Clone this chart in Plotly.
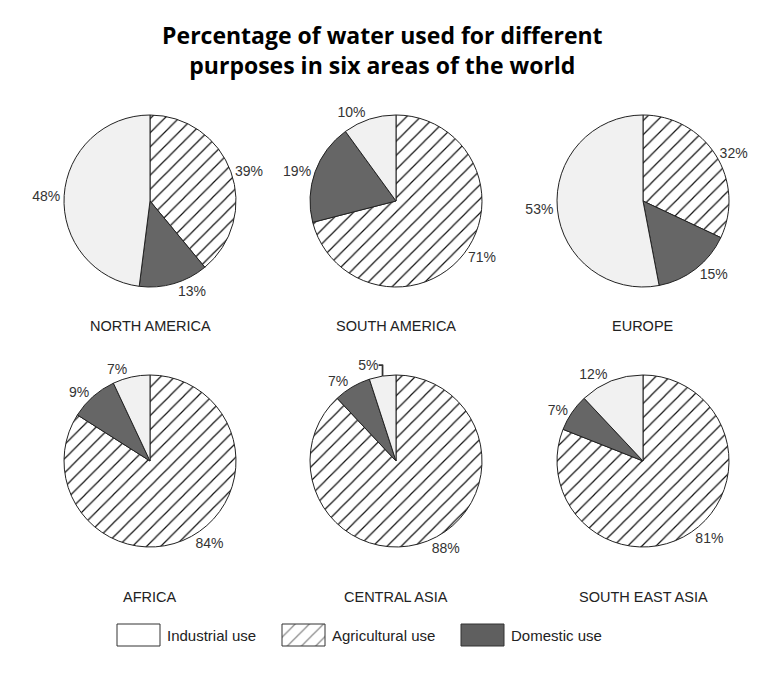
import plotly.graph_objects as go

regions = ["NORTH AMERICA", "SOUTH AMERICA", "EUROPE", "AFRICA", "CENTRAL ASIA", "SOUTH EAST ASIA"]
agricultural = [39, 71, 32, 84, 88, 81]
domestic = [13, 19, 15, 9, 7, 7]
industrial = [48, 10, 53, 7, 5, 12]
uses = ["Agricultural use", "Domestic use", "Industrial use"]
legend_order = ["Industrial use", "Agricultural use", "Domestic use"]

W, H = 774, 687
centers = [(150, 201), (396, 201), (643, 201), (150, 461), (396, 461), (643, 461)]
label_dy = [125, 125, 125, 136, 136, 136]
R = 86
FONT = "Liberation Sans, Arial"

colors = {"Agricultural use": "white", "Domestic use": "#666666", "Industrial use": "#f1f1f1"}
legend_colors = {"Agricultural use": "white", "Domestic use": "#5f5f5f", "Industrial use": "white"}
shapes = {"Agricultural use": "/", "Domestic use": "", "Industrial use": ""}

fig = go.Figure()
for i, reg in enumerate(regions):
    cx, cy = centers[i]
    vals = [agricultural[i], domestic[i], industrial[i]]
    fig.add_trace(go.Pie(
        labels=uses, values=vals, sort=False, direction="clockwise", rotation=0,
        domain=dict(x=[(cx - R) / W, (cx + R) / W], y=[1 - (cy + R) / H, 1 - (cy - R) / H]),
        marker=dict(colors=[colors[u] for u in uses],
                    line=dict(color="#222", width=1),
                    pattern=dict(shape=[shapes[u] for u in uses], fgcolor="#111",
                                 bgcolor=[colors[u] for u in uses], size=10, solidity=0.12)),
        texttemplate="%{value}%", textposition="outside",
        textfont=dict(family=FONT, size=14, color="#333"),
        showlegend=False, hoverinfo="label+percent",
    ))
    fig.add_annotation(x=cx / W, y=1 - (cy + label_dy[i]) / H, xref="paper", yref="paper",
                       xanchor="center", yanchor="middle",
                       text=reg, showarrow=False,
                       font=dict(family=FONT, size=14.5, color="#222"))

# custom legend keys (drawn in pixel-like axis space)
legend_left = [117, 282, 461]
box_w, box_h, leg_y = 43, 22, 635
for u, lx in zip(legend_order, legend_left):
    fig.add_trace(go.Scatter(
        x=[lx, lx + box_w, lx + box_w, lx, lx],
        y=[leg_y - box_h / 2, leg_y - box_h / 2, leg_y + box_h / 2, leg_y + box_h / 2, leg_y - box_h / 2],
        mode="lines", fill="toself", fillcolor=legend_colors[u],
        fillpattern=dict(shape=shapes[u], fgcolor="#111", bgcolor=legend_colors[u], size=10, solidity=0.12),
        line=dict(color="#333", width=1), showlegend=False, hoverinfo="skip",
    ))
    fig.add_annotation(x=lx + box_w + 5, y=leg_y, xref="x", yref="y", xanchor="left",
                       yanchor="middle", text=u, showarrow=False,
                       font=dict(family=FONT, size=15, color="#222"))

fig.update_layout(
    width=W, height=H, margin=dict(l=0, r=0, t=0, b=0),
    paper_bgcolor="white", plot_bgcolor="rgba(0,0,0,0)",
    xaxis=dict(visible=False, range=[0, W], domain=[0, 1], fixedrange=True),
    yaxis=dict(visible=False, range=[H, 0], domain=[0, 1], fixedrange=True),
    showlegend=False,
    title=dict(text="<b>Percentage of water used for different<br>purposes in six areas of the world</b>",
               x=0.494, xanchor="center", y=1 - 44 / H, yanchor="middle",
               font=dict(family="Open Sans, Liberation Sans", size=23, color="#000")),
)

fig.write_html("out.html")
